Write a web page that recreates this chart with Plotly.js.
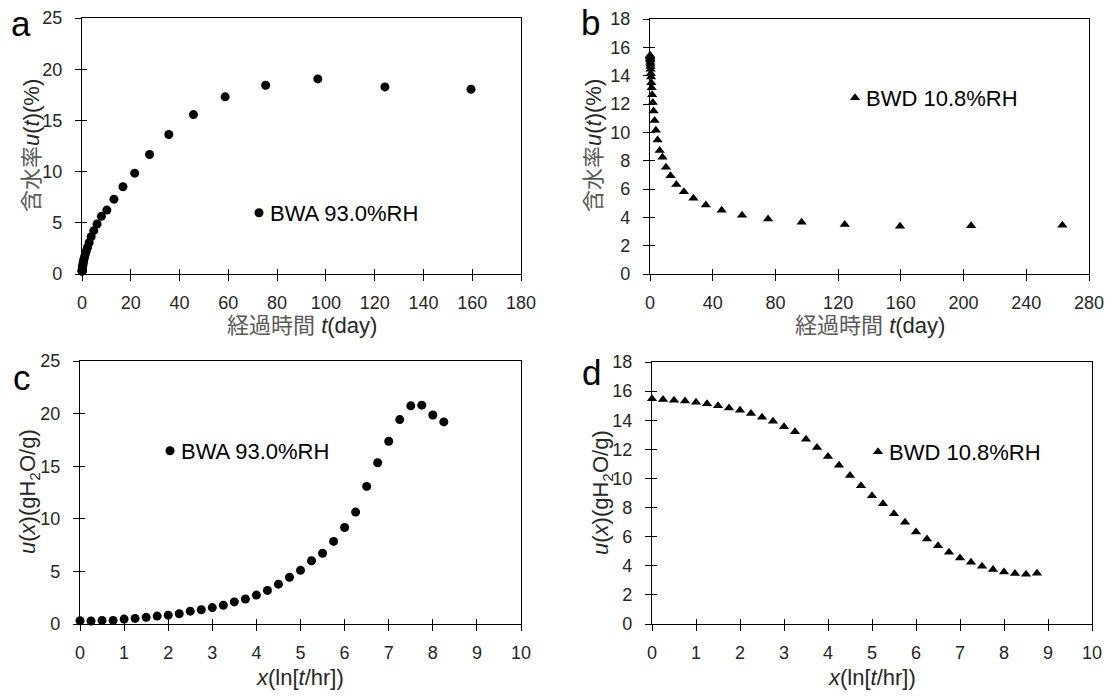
<!DOCTYPE html>
<html>
<head>
<meta charset="utf-8">
<script src="https://cdn.plot.ly/plotly-3.0.1.min.js"></script>
<style>html,body{margin:0;padding:0;background:#fff;}#chart{width:1110px;height:697px;}</style>
</head>
<body>
<div id="chart"></div>
<script>
// Panel a: BWA 93.0%RH, elapsed time (day) vs moisture content (%)
const aTime = [0.042, 0.054, 0.069, 0.088, 0.113, 0.145, 0.187, 0.240, 0.308, 0.395, 0.508, 0.652, 0.837, 1.07, 1.38, 1.77, 2.27, 2.92, 3.75, 4.82, 6.18, 7.95, 10.2, 13.1, 16.8, 21.6, 27.7, 35.6, 45.7, 58.7, 75.3, 96.7, 124.2, 159.5];
const aMoisture = [0.30, 0.27, 0.32, 0.32, 0.45, 0.50, 0.60, 0.70, 0.80, 0.92, 1.15, 1.27, 1.48, 1.68, 1.95, 2.25, 2.60, 3.05, 3.64, 4.23, 4.88, 5.63, 6.24, 7.31, 8.52, 9.85, 11.67, 13.62, 15.57, 17.30, 18.43, 19.05, 18.27, 18.04];

// Panel b: BWD 10.8%RH
const bTime = [0.042, 0.054, 0.069, 0.088, 0.113, 0.145, 0.187, 0.240, 0.308, 0.395, 0.508, 0.652, 0.837, 1.07, 1.38, 1.77, 2.27, 2.92, 3.75, 4.82, 6.18, 7.95, 10.2, 13.1, 16.8, 21.6, 27.7, 35.6, 45.7, 58.7, 75.3, 96.7, 124.2, 159.5, 204.8, 263.0];
const bMoisture = [15.45, 15.40, 15.35, 15.30, 15.20, 15.10, 14.95, 14.80, 14.65, 14.45, 14.15, 13.90, 13.50, 13.15, 12.65, 12.10, 11.50, 10.84, 10.14, 9.46, 8.71, 8.24, 7.54, 6.93, 6.32, 5.80, 5.34, 4.87, 4.50, 4.15, 3.89, 3.65, 3.49, 3.37, 3.40, 3.44];

// Panel c: BWA 93.0%RH, x = ln(t/hr)
const cX = [0, 0.25, 0.5, 0.75, 1, 1.25, 1.5, 1.75, 2, 2.25, 2.5, 2.75, 3, 3.25, 3.5, 3.75, 4, 4.25, 4.5, 4.75, 5, 5.25, 5.5, 5.75, 6, 6.25, 6.5, 6.75, 7, 7.25, 7.5, 7.75, 8, 8.25];
const cU = [0.31, 0.28, 0.34, 0.34, 0.47, 0.53, 0.63, 0.75, 0.84, 0.97, 1.22, 1.35, 1.56, 1.78, 2.10, 2.38, 2.75, 3.19, 3.79, 4.44, 5.10, 6.01, 6.73, 7.85, 9.17, 10.64, 13.08, 15.33, 17.37, 19.43, 20.74, 20.80, 19.87, 19.21];

// Panel d: BWD 10.8%RH, x = ln(t/hr)
const dX = [0, 0.25, 0.5, 0.75, 1, 1.25, 1.5, 1.75, 2, 2.25, 2.5, 2.75, 3, 3.25, 3.5, 3.75, 4, 4.25, 4.5, 4.75, 5, 5.25, 5.5, 5.75, 6, 6.25, 6.5, 6.75, 7, 7.25, 7.5, 7.75, 8, 8.25, 8.5, 8.75];
const dU = [15.48, 15.43, 15.37, 15.32, 15.23, 15.14, 15.00, 14.84, 14.68, 14.47, 14.20, 13.93, 13.56, 13.20, 12.69, 12.12, 11.51, 10.91, 10.21, 9.50, 8.81, 8.26, 7.58, 6.99, 6.32, 5.84, 5.37, 4.93, 4.54, 4.25, 3.97, 3.74, 3.58, 3.47, 3.42, 3.49];

const seriesNames = ['BWA 93.0%RH', 'BWD 10.8%RH'];
const panelLetters = ['a', 'b', 'c', 'd'];

const FONT = '"Liberation Sans", Arial, "Noto Sans CJK JP", sans-serif';
const W = 1110, H = 697;
const px = v => v / W;
const py = v => 1 - v / H;

// plot boxes in pixels: [left, right, top, bottom]
const boxes = {
  a: [82, 521, 18, 274],
  b: [650, 1089, 19, 274],
  c: [80, 521, 361, 624],
  d: [652, 1092, 362, 624]
};
const ranges = {
  a: {x: [0, 180], dx: 20, y: [0, 25], dy: 5},
  b: {x: [0, 280], dx: 40, y: [0, 18], dy: 2},
  c: {x: [0, 10], dx: 1, y: [0, 25], dy: 5},
  d: {x: [0, 10], dx: 1, y: [0, 18], dy: 2}
};

const tickfont = {family: FONT, size: 18, color: '#262626'};
const layout = {
  width: W, height: H,
  margin: {l: 0, r: 0, t: 0, b: 0},
  paper_bgcolor: '#ffffff', plot_bgcolor: '#ffffff',
  font: {family: FONT, color: '#262626'},
  showlegend: true,
  annotations: []
};

const keys = ['a', 'b', 'c', 'd'];
keys.forEach((k, i) => {
  const n = i + 1;
  const xn = n === 1 ? 'xaxis' : 'xaxis' + n;
  const yn = n === 1 ? 'yaxis' : 'yaxis' + n;
  const xr = n === 1 ? 'x' : 'x' + n;
  const yr = n === 1 ? 'y' : 'y' + n;
  const b = boxes[k], r = ranges[k];
  layout[xn] = {
    domain: [px(b[0]), px(b[1])], anchor: yr, range: r.x, dtick: r.dx, tick0: 0,
    showgrid: false, zeroline: false, showline: true, mirror: true,
    linecolor: '#000', linewidth: 1.3, ticks: 'outside', ticklen: 6, tickwidth: 1.3, tickcolor: '#000',
    tickfont: tickfont, ticklabelstandoff: 6, fixedrange: true
  };
  layout[yn] = {
    domain: [py(b[3]), py(b[2])], anchor: xr, range: r.y, dtick: r.dy, tick0: 0,
    showgrid: false, zeroline: false, showline: true, mirror: true,
    linecolor: '#000', linewidth: 1.3, ticks: 'outside', ticklen: 6, tickwidth: 1.3, tickcolor: '#000',
    tickfont: tickfont, ticklabelstandoff: 9, fixedrange: true
  };
  // overlay axes that draw the inner half of the crossing tick marks
  const on = n + 4;
  layout['xaxis' + on] = {
    overlaying: xr, anchor: 'y' + on, range: r.x, dtick: r.dx, tick0: 0,
    showgrid: false, zeroline: false, showline: false, showticklabels: false,
    ticks: 'inside', ticklen: 5, tickwidth: 1.3, tickcolor: '#000', fixedrange: true
  };
  layout['yaxis' + on] = {
    overlaying: yr, anchor: 'x' + on, range: r.y, dtick: r.dy, tick0: 0,
    showgrid: false, zeroline: false, showline: false, showticklabels: false,
    ticks: 'inside', ticklen: 5, tickwidth: 1.3, tickcolor: '#000', fixedrange: true
  };
});

// legends
const legendPos = [[230, 213], [826, 98], [141, 451], [849, 452]];
['legend', 'legend2', 'legend3', 'legend4'].forEach((ln, i) => {
  layout[ln] = {
    x: px(legendPos[i][0]), y: py(legendPos[i][1]), xanchor: 'left', yanchor: 'middle',
    bgcolor: 'rgba(0,0,0,0)', borderwidth: 0,
    font: {family: FONT, size: 22, color: '#000'}
  };
});

function mk(x, y, xr, yr, sym, name, legend) {
  return {
    type: 'scatter', mode: 'markers', x: x, y: y, xaxis: xr, yaxis: yr,
    name: name, legend: legend, cliponaxis: false, hoverinfo: 'x+y',
    marker: {symbol: sym, size: 9, color: '#000', line: {width: 0}}
  };
}
const data = [
  mk(aTime, aMoisture, 'x', 'y', 'circle', seriesNames[0], 'legend'),
  mk(bTime, bMoisture, 'x2', 'y2', 'triangle-up', seriesNames[1], 'legend2'),
  mk(cX, cU, 'x3', 'y3', 'circle', seriesNames[0], 'legend3'),
  mk(dX, dU, 'x4', 'y4', 'triangle-up', seriesNames[1], 'legend4')
];
for (let n = 5; n <= 8; n++) {
  data.push({type: 'scatter', mode: 'markers', x: [], y: [], xaxis: 'x' + n, yaxis: 'y' + n, showlegend: false, hoverinfo: 'skip'});
}

// axis titles (annotations)
const gray = '#595959';
const titleFont = {family: FONT, size: 22, color: '#262626'};
const yTitleTime = '<span style="color:' + gray + '">含水率</span><i>u</i>(<i>t</i>)(%)';
const xTitleTime = '<span style="color:' + gray + '">経過時間</span> <i>t</i>(day)';
const yTitleLn = '<i>u</i>(<i>x</i>)(gH<sub>2</sub>O/g)';
const xTitleLn = '<i>x</i>(ln[<i>t</i>/hr])';
const titles = [
  [yTitleTime, 31, 146, -90], [xTitleTime, 302, 325, 0],
  [yTitleTime, 593, 146, -90], [xTitleTime, 870, 325, 0],
  [yTitleLn, 29, 492, -90], [xTitleLn, 300, 677, 0],
  [yTitleLn, 602, 493, -90], [xTitleLn, 872, 677, 0]
];
titles.forEach(t => {
  layout.annotations.push({
    text: t[0], xref: 'paper', yref: 'paper', x: px(t[1]), y: py(t[2]),
    xanchor: 'center', yanchor: 'middle', textangle: t[3], showarrow: false, font: titleFont
  });
});
// panel letters
const letterPos = [[21, 24], [590, 22], [22, 377], [591, 372]];
panelLetters.forEach((l, i) => {
  layout.annotations.push({
    text: l, xref: 'paper', yref: 'paper', x: px(letterPos[i][0]), y: py(letterPos[i][1]),
    xanchor: 'center', yanchor: 'middle', showarrow: false,
    font: {family: FONT, size: 35, color: '#000'}
  });
});

Plotly.newPlot('chart', data, layout, {displayModeBar: false}).then(gd => {
  // bring legend symbols closer to their text, as in the reference
  gd.querySelectorAll('g.legendpoints').forEach(g => g.setAttribute('transform', 'translate(9,0)'));
});
</script>
</body>
</html>
